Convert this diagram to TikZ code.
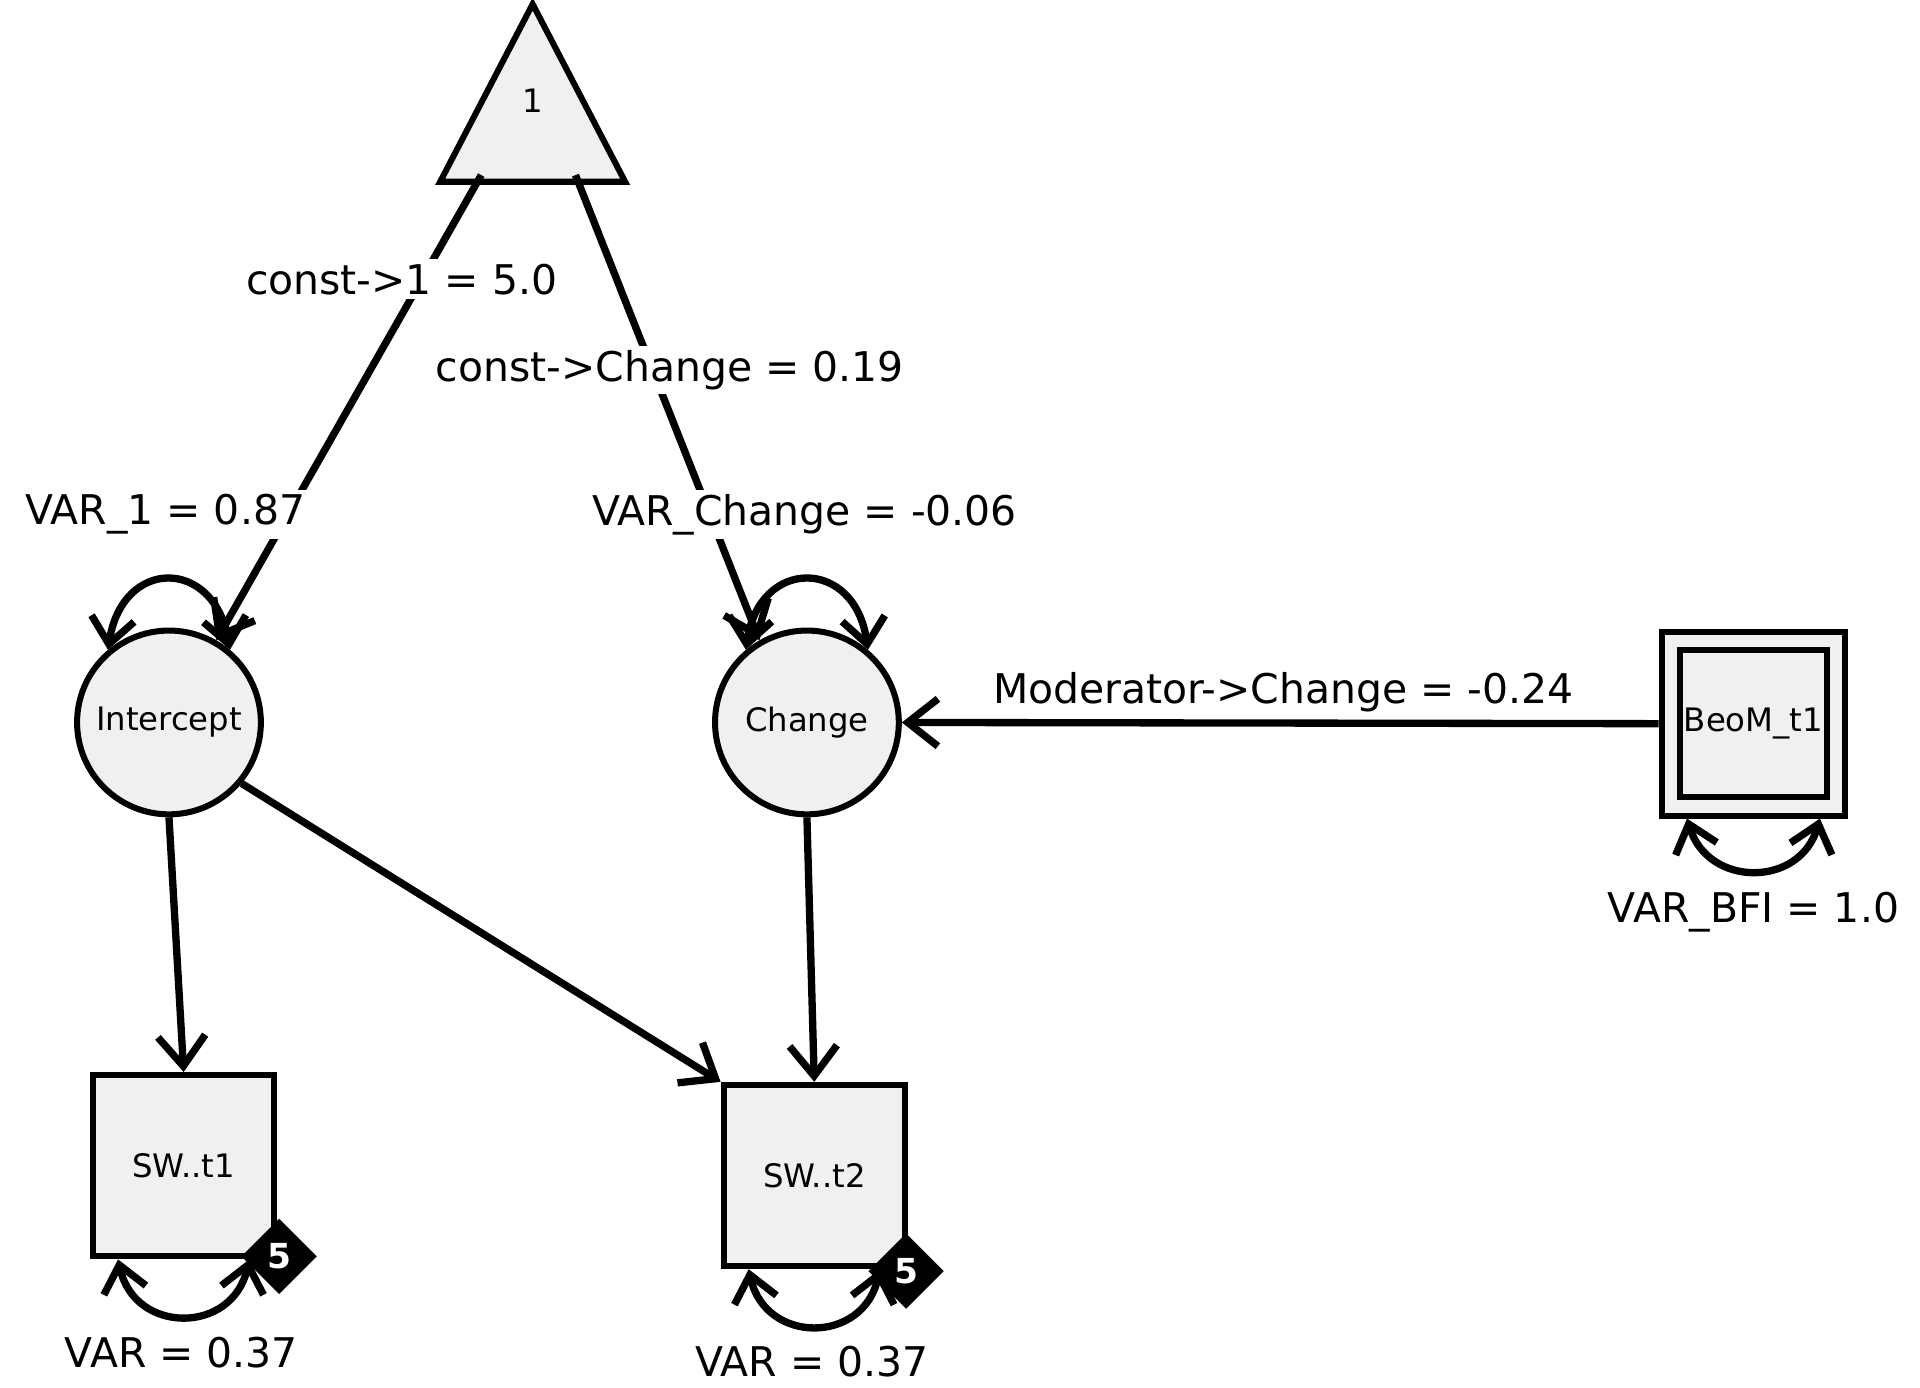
\documentclass[tikz,border=0pt]{standalone}
\usepackage{fontspec}
\setmainfont{DejaVu Sans}
\usetikzlibrary{arrows.meta,shapes.geometric}
\begin{document}
\begin{tikzpicture}[x=0.01cm,y=-0.01cm,
  conn/.style={line width=1.7pt,-{Straight Barb[length=7pt,width=11pt,line width=1.7pt]}},
  loop/.style={line width=1.7pt,{Straight Barb[length=6pt,width=10pt,line width=1.7pt]}-{Straight Barb[length=6pt,width=10pt,line width=1.7pt]}},
  lat/.style={circle,draw,line width=1.4pt,fill=gray!12,minimum size=1.5cm,inner sep=0pt,font=\fontsize{7.5}{9}\selectfont},
  obs/.style={rectangle,draw,line width=1.4pt,fill=gray!12,minimum size=1.48cm,inner sep=0pt,font=\fontsize{7.5}{9}\selectfont},
  lab/.style={fill=white,inner sep=1pt,font=\fontsize{9.5}{11}\selectfont},
  dia/.style={diamond,fill=black,minimum size=0.62cm,inner sep=0pt,text=white,font=\fontsize{8}{9}\selectfont\bfseries}]
\useasboundingbox (0,0) rectangle (1568,1133);
\node[isosceles triangle,isosceles triangle apex angle=55,shape border rotate=90,draw,line width=1.4pt,fill=gray!12,minimum height=1.45cm,inner sep=0pt,anchor=north] (one) at (435,-2) {};
\node[font=\fontsize{7.5}{9}\selectfont] (onel) at (435,82) {1};
\node[lat] (int) at (138,590) {Intercept};
\node[lat] (chg) at (659,590) {Change};
\node[obs] (sw1) at (150,952) {SW..t1};
\node[obs] (sw2) at (665,960) {SW..t2};
\node[rectangle,draw,line width=1.4pt,fill=gray!12,minimum size=1.5cm,inner sep=0pt] (beo) at (1432,591) {};
\node[rectangle,draw,line width=1.4pt,minimum size=1.2cm,inner sep=0pt,font=\fontsize{7.5}{9}\selectfont] (beoi) at (1432,591) {BeoM\_t1};
\coordinate (t1) at (393,143);
\coordinate (t2) at (470,143);
\draw[conn] (t1) -- (int.60);
\draw[conn] (t2) -- (chg.120);
\draw[conn] (int.south) -- (sw1.north);
\draw[conn] (int.-40) -- (sw2.north west);
\draw[conn] (chg.south) -- (sw2.north);
\draw[conn] (beo.west) -- (chg.east);
\draw[loop] (int.130) .. controls (100,455) and (175,455) .. (int.50);
\draw[loop] (chg.130) .. controls (620,455) and (698,455) .. (chg.50);
\draw[loop] (sw1.-125) .. controls (110,1090) and (190,1090) .. (sw1.-55);
\draw[loop] (sw2.-125) .. controls (625,1098) and (705,1098) .. (sw2.-55);
\draw[loop] (beo.-125) .. controls (1395,725) and (1470,725) .. (beo.-55);
\node[dia] (d1) at (228,1026) {5};
\node[dia] (d2) at (740,1038) {5};
\node[lab] (l1) at (328,228) {const->1 = 5.0};
\node[lab] (l2) at (547,302) {const->Change = 0.19};
\node[lab] (l3) at (135,420) {VAR\_1 = 0.87};
\node[lab] (l4) at (657,420) {VAR\_Change = -0.06};
\node[lab] (l5) at (1048,565) {Moderator->Change = -0.24};
\node[lab] (l6) at (1432,745) {VAR\_BFI = 1.0};
\node[lab] (l7) at (148,1105) {VAR = 0.37};
\node[lab] (l8) at (663,1112) {VAR = 0.37};
\end{tikzpicture}
\end{document}
